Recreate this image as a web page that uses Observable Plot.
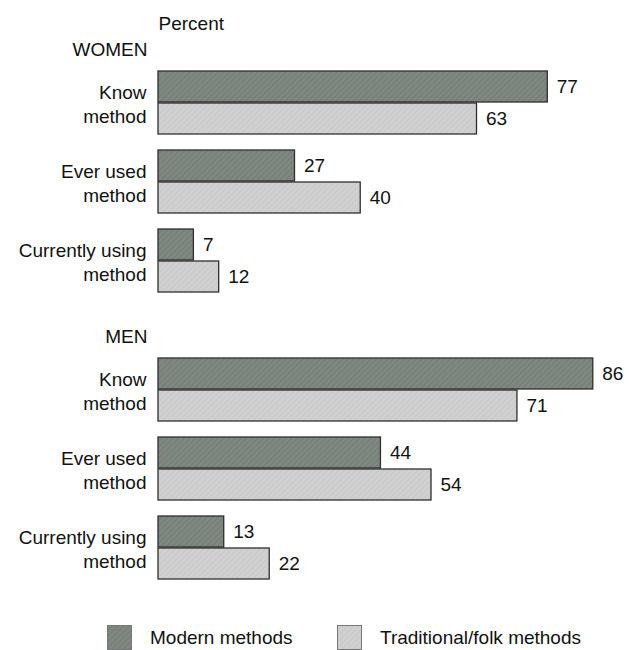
<!DOCTYPE html>
<html>
<head>
<meta charset="utf-8">
<script src="https://cdn.jsdelivr.net/npm/d3@7"></script>
<script src="https://cdn.jsdelivr.net/npm/@observablehq/plot@0.6"></script>
<style>
  html, body { margin: 0; padding: 0; background: #fff; }
  body { width: 629px; font-family: "Liberation Sans", Arial, Helvetica, sans-serif; color: #111; }
  #legend { position: relative; height: 50px; font-size: 19px; }
  #legend .item { position: absolute; top: 25px; display: flex; align-items: center; height: 25px; }
  #legend svg { display: block; }
  #legend span { margin-left: 18px; line-height: 25px; }
</style>
</head>
<body>
<!-- shared fill patterns for bars and legend swatches -->
<svg width="0" height="0" style="position:absolute">
  <defs>
    <pattern id="modernHatch" patternUnits="userSpaceOnUse" width="4" height="4" patternTransform="rotate(45)">
      <rect width="4" height="4" fill="#7f8781"></rect>
      <line x1="0" y1="0" x2="0" y2="4" stroke="#6c746e" stroke-width="1.2"></line>
    </pattern>
    <pattern id="tradHatch" patternUnits="userSpaceOnUse" width="4" height="4" patternTransform="rotate(45)">
      <rect width="4" height="4" fill="#d0d0d0"></rect>
      <line x1="0" y1="0" x2="0" y2="4" stroke="#c2c2c2" stroke-width="1"></line>
    </pattern>
  </defs>
</svg>
<div id="chart"></div>
<div id="legend"></div>
<script>
// Knowledge and use of family planning methods, by sex
const sexes = ["WOMEN", "MEN"];
const categories = ["Know method", "Ever used method", "Currently using method"];
const categoryLabels = ["Know\nmethod", "Ever used\nmethod", "Currently using\nmethod"];
const seriesNames = ["Modern methods", "Traditional/folk methods"];

const womenModern = [77, 27, 7];
const womenTraditional = [63, 40, 12];
const menModern = [86, 44, 13];
const menTraditional = [71, 54, 22];

const modernRows = [
  ...categories.map((c, i) => ({sex: "WOMEN", category: c, label: categoryLabels[i], value: womenModern[i]})),
  ...categories.map((c, i) => ({sex: "MEN", category: c, label: categoryLabels[i], value: menModern[i]}))
];
const traditionalRows = [
  ...categories.map((c, i) => ({sex: "WOMEN", category: c, value: womenTraditional[i]})),
  ...categories.map((c, i) => ({sex: "MEN", category: c, value: menTraditional[i]}))
];

const modernFill = "url(#modernHatch)";
const tradFill = "url(#tradHatch)";
const half = 32; // each category band holds two stacked bars

const chart = Plot.plot({
  width: 629,
  height: 600,
  marginLeft: 158,
  marginRight: 16,
  marginTop: 69,
  marginBottom: 19,
  style: {fontFamily: "'Liberation Sans', Arial, Helvetica, sans-serif", fontSize: "19px", color: "#111", background: "#fff"},
  x: {domain: [0, 90], axis: null},
  y: {domain: categories, paddingInner: 0.2, paddingOuter: 0, axis: null},
  fy: {domain: sexes, paddingInner: 0.222, paddingOuter: 0, axis: null},
  marks: [
    Plot.barX(modernRows, {x: "value", y: "category", fy: "sex", insetBottom: half,
      fill: modernFill, stroke: "#2e2e2e", strokeWidth: 1.3}),
    Plot.barX(traditionalRows, {x: "value", y: "category", fy: "sex", insetTop: half,
      fill: tradFill, stroke: "#2e2e2e", strokeWidth: 1.3}),
    Plot.text(modernRows, {x: "value", y: "category", fy: "sex", text: d => String(d.value),
      textAnchor: "start", dx: 9, dy: -half / 2, fill: "#111"}),
    Plot.text(traditionalRows, {x: "value", y: "category", fy: "sex", text: d => String(d.value),
      textAnchor: "start", dx: 9, dy: half / 2, fill: "#111"}),
    // category labels to the left of each pair of bars
    Plot.text(modernRows, {y: "category", fy: "sex", text: "label", frameAnchor: "left",
      textAnchor: "end", lineAnchor: "middle", lineHeight: 1.27, dx: -12, fill: "#111"}),
    // section headings
    Plot.text(sexes, {fy: d => d, text: d => d, frameAnchor: "top-left", textAnchor: "end",
      lineAnchor: "middle", dx: -11, dy: -21, fill: "#111"}),
    Plot.text(["Percent"], {fy: () => "WOMEN", text: d => d, frameAnchor: "top-left",
      textAnchor: "start", lineAnchor: "middle", dy: -47, fill: "#111"})
  ]
});
document.getElementById("chart").append(chart);

// legend below the plot
const legend = document.getElementById("legend");
const swatchLeft = [107, 337];
const fills = [modernFill, tradFill];
seriesNames.forEach((name, i) => {
  const item = document.createElement("div");
  item.className = "item";
  item.style.left = swatchLeft[i] + "px";
  item.innerHTML = `<svg width="25" height="25"><rect x="0.5" y="0.5" width="24" height="24" fill="${fills[i]}" stroke="#777" stroke-width="1"></rect></svg><span>${name}</span>`;
  legend.append(item);
});
</script>
</body>
</html>
